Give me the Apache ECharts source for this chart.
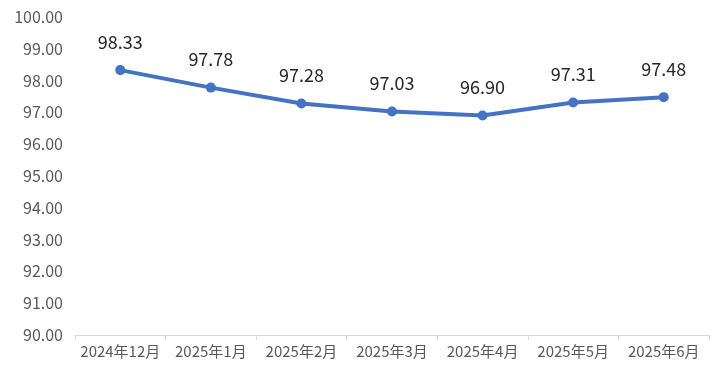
<!DOCTYPE html>
<html><head><meta charset="utf-8">
<script src="https://cdn.jsdelivr.net/npm/echarts@6/dist/echarts.min.js"></script>
<style>html,body{margin:0;padding:0;background:#fff}#c{width:719px;height:372px}</style>
</head><body><div id="c"></div>
<script>
const categories = ['2024年12月','2025年1月','2025年2月','2025年3月','2025年4月','2025年5月','2025年6月'];
const values = [98.33, 97.78, 97.28, 97.03, 96.90, 97.31, 97.48];
const yMin = 90, yMax = 100, yStep = 1;
const FONT = '"Noto Sans CJK SC", "Noto Sans", sans-serif';
const chart = echarts.init(document.getElementById('c'));
chart.setOption({
  animation: false,
  grid: {left: 75, right: 10, top: 17, bottom: 37},
  xAxis: {
    type: 'category', data: categories, boundaryGap: true,
    axisLine: {lineStyle: {color: '#d9d9d9', width: 1}},
    axisTick: {show: true, length: 5, interval: 0, lineStyle: {color: '#d9d9d9'}},
    axisLabel: {color: '#595959', fontSize: 15, fontFamily: FONT, margin: 9, interval: 0, hideOverlap: false}
  },
  yAxis: {
    type: 'value', min: yMin, max: yMax, interval: yStep,
    axisLine: {show: false}, axisTick: {show: false}, splitLine: {show: false},
    axisLabel: {color: '#595959', fontSize: 16, fontFamily: FONT, margin: 12,
      formatter: v => v.toFixed(2)}
  },
  series: [{
    type: 'line', data: values,
    lineStyle: {color: '#4472C4', width: 4},
    itemStyle: {color: '#4472C4'},
    symbol: 'circle', symbolSize: 10,
    label: {show: true, position: 'top', distance: 14, color: '#262626', fontSize: 18,
      fontFamily: FONT, formatter: p => p.value.toFixed(2)}
  }]
});
</script></body></html>
